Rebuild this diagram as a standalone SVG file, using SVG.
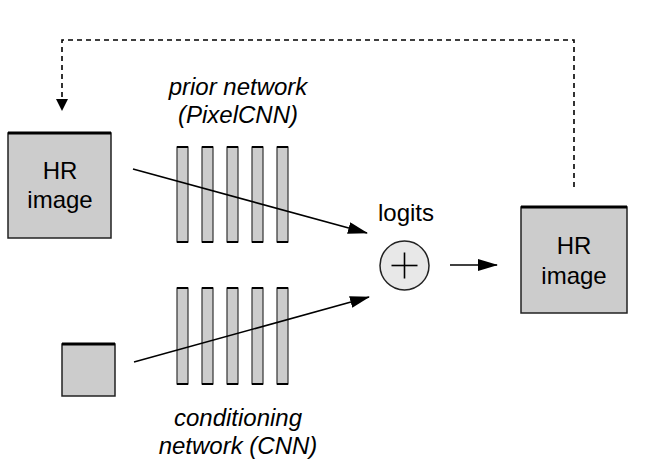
<svg xmlns="http://www.w3.org/2000/svg" width="651" height="468" viewBox="0 0 651 468">
<defs>
<style>
.box{fill:#cccccc;stroke:#222;stroke-width:1.5}
.top{stroke:#000;stroke-width:3}
.bar{fill:#cccccc;stroke:#333;stroke-width:1.2}
.cap{stroke:#000;stroke-width:2.2}
.t{font-family:"Liberation Sans",Arial,sans-serif;font-size:24px;fill:#000;text-anchor:middle}
.it{font-family:"Liberation Sans",Arial,sans-serif;font-size:24px;font-style:italic;fill:#000;text-anchor:middle}
.ln{stroke:#000;stroke-width:1.6;fill:none}
</style>
<marker id="ah" markerWidth="12" markerHeight="12" refX="11" refY="6" orient="auto" markerUnits="userSpaceOnUse">
<path d="M0,0 L12,6 L0,12 Z" fill="#000"/>
</marker>
<marker id="ah2" markerWidth="20" markerHeight="12" refX="19" refY="6" orient="auto" markerUnits="userSpaceOnUse">
<path d="M0,0 L20,6 L0,12 Z" fill="#000"/>
</marker>
</defs>
<g id="hr-left">
<rect class="box" x="8" y="133" width="103" height="105"/>
<line class="top" x1="8" y1="133" x2="111" y2="133"/>
<text class="t" x="60" y="179">HR</text>
<text class="t" x="60" y="208">image</text>
</g>
<g id="cond-input">
<rect class="box" x="62" y="344" width="53" height="52"/>
<line class="top" x1="62" y1="344" x2="115" y2="344"/>
</g>
<g id="prior-network">
<rect class="bar" x="177" y="147" width="11" height="95"/>
<rect class="bar" x="202" y="147" width="11" height="95"/>
<rect class="bar" x="227" y="147" width="11" height="95"/>
<rect class="bar" x="252" y="147" width="11" height="95"/>
<rect class="bar" x="277" y="147" width="11" height="95"/>
<path class="cap" d="M177,147h11M202,147h11M227,147h11M252,147h11M277,147h11M177,242h11M202,242h11M227,242h11M252,242h11M277,242h11"/>
<text class="it" x="238" y="95">prior network</text>
<text class="it" x="238" y="123">(PixelCNN)</text>
</g>
<g id="cond-network">
<rect class="bar" x="177" y="288" width="11" height="96"/>
<rect class="bar" x="202" y="288" width="11" height="96"/>
<rect class="bar" x="227" y="288" width="11" height="96"/>
<rect class="bar" x="252" y="288" width="11" height="96"/>
<rect class="bar" x="277" y="288" width="11" height="96"/>
<path class="cap" d="M177,288h11M202,288h11M227,288h11M252,288h11M277,288h11M177,384h11M202,384h11M227,384h11M252,384h11M277,384h11"/>
<text class="it" x="238" y="426">conditioning</text>
<text class="it" x="238" y="454">network (CNN)</text>
</g>
<g id="sum">
<circle cx="404.5" cy="265.5" r="24.5" fill="#e8e8e8" stroke="#222" stroke-width="1.5"/>
<line class="ln" x1="391.5" y1="265.5" x2="417.5" y2="265.5" stroke-width="2.8"/>
<line class="ln" x1="404.5" y1="252.5" x2="404.5" y2="278.5" stroke-width="2.8"/>
<text class="t" x="406" y="221">logits</text>
</g>
<g id="hr-right">
<rect class="box" x="521" y="207" width="106" height="106"/>
<line class="top" x1="521" y1="207" x2="627" y2="207"/>
<text class="t" x="574" y="254">HR</text>
<text class="t" x="574" y="284">image</text>
</g>
<g id="connectors">
<line class="ln" x1="133" y1="169" x2="367" y2="233" marker-end="url(#ah2)"/>
<line class="ln" x1="134" y1="362" x2="369" y2="297" marker-end="url(#ah2)"/>
<line class="ln" x1="450" y1="265" x2="497" y2="265" marker-end="url(#ah2)"/>
<polyline class="ln" points="574,187 574,40 62,40 62,110" stroke-width="1.3" stroke-dasharray="5,4" marker-end="url(#ah)"/>
</g>
</svg>
